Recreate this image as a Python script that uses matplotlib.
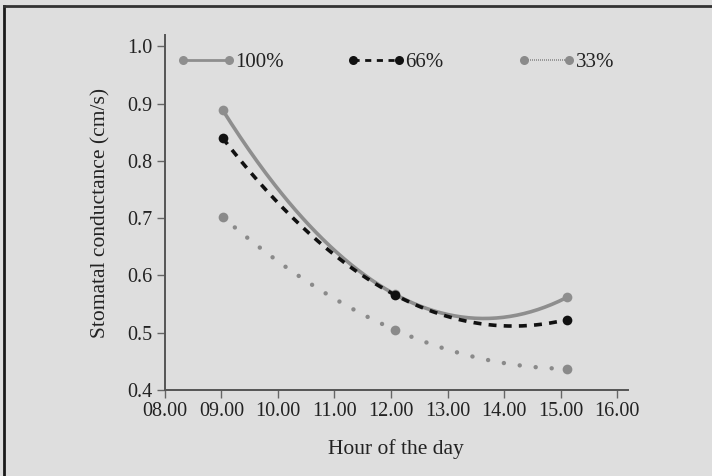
import matplotlib
matplotlib.use("Agg")
import matplotlib.pyplot as plt
import numpy as np
from matplotlib.lines import Line2D
from matplotlib.legend_handler import HandlerLine2D

plt.rcParams['font.family'] = ['Liberation Serif', 'DejaVu Serif']

# data
hours = [9.02, 12.07, 15.12]
labels = ['100%', '66%', '33%']
cond_100 = [0.889, 0.567, 0.562]
cond_66 = [0.840, 0.566, 0.523]
cond_33 = [0.702, 0.505, 0.437]
xticks = [8, 9, 10, 11, 12, 13, 14, 15, 16]
xticklabels = ['08.00', '09.00', '10.00', '11.00', '12.00', '13.00', '14.00', '15.00', '16.00']
yticks = [0.4, 0.5, 0.6, 0.7, 0.8, 0.9, 1.0]

bg = '#dedede'
txt = '#222222'
fig = plt.figure(figsize=(7.12, 4.76), dpi=100, facecolor=bg)
ax = fig.add_axes([0.2317, 0.1807, 0.650, 0.746])
ax.set_facecolor(bg)

styles = [
    dict(color='#8e8e8e', ls='-', lw=2.6),
    dict(color='#111111', ls=(0, (2.2, 2.0)), lw=2.6),
    dict(color='#8a8a8a', ls=(0, (0.01, 3.6)), lw=3.2, dash_capstyle='round'),
]
series = [cond_100, cond_66, cond_33]
handles = []
for vals, st, lab in zip(series, styles, labels):
    coef = np.polyfit(hours, vals, 2)
    xs = np.linspace(hours[0], hours[-1], 200)
    ax.plot(xs, np.polyval(coef, xs), solid_capstyle='round', **st)
    ax.plot(hours, vals, 'o', color=st['color'], ms=7, mec='none')
    leg_ls = st['ls'] if lab != '33%' else (0, (0.6, 0.6))
    handles.append(Line2D([0], [0], marker='o', ms=6.5, mec='none',
                          color=st['color'], ls=leg_ls,
                          lw=2.0 if lab != '33%' else 1.2))

# one legend entry per slot, as in the original layout
leg_x = [0.039, 0.406, 0.775]
for i, (h, lab, lx) in enumerate(zip(handles, labels, leg_x)):
    leg = ax.legend([h], [lab], numpoints=2, frameon=False,
                    loc='center left', bbox_to_anchor=(lx, 0.922),
                    handlelength=2.2, handletextpad=0.3, borderpad=0,
                    borderaxespad=0, fontsize=15, labelcolor=txt,
                    handler_map={Line2D: HandlerLine2D(marker_pad=0)})
    if i < len(labels) - 1:
        ax.add_artist(leg)

ax.set_xlim(8, 16.19)
ax.set_ylim(0.4, 1.02)
ax.set_xticks(xticks)
ax.set_xticklabels(xticklabels)
ax.set_yticks(yticks)
ax.set_yticklabels(['%.1f' % v for v in yticks])
for s in ['top', 'right']:
    ax.spines[s].set_visible(False)
for s in ['left', 'bottom']:
    ax.spines[s].set_color('#555555')
    ax.spines[s].set_linewidth(1.4)
ax.tick_params(axis='both', direction='out', length=6, width=1.0,
               color='#666666', labelsize=14.5, labelcolor=txt, pad=3)
ax.set_xlabel('Hour of the day', fontsize=15.5, color=txt, labelpad=13)
ax.set_ylabel('Stomatal conductance (cm/s)', fontsize=15.5, color=txt, labelpad=12)

# frame edge at top and left of the scan
fig.add_artist(Line2D([4 / 712, 4 / 712], [0, 1 - 6 / 476], color='#1a1a1a', lw=2.0,
                      transform=fig.transFigure))
fig.add_artist(Line2D([4 / 712, 1], [1 - 6 / 476, 1 - 6 / 476], color='#333333', lw=2.0,
                      transform=fig.transFigure))

fig.savefig('out.png', dpi=100, facecolor=bg)
